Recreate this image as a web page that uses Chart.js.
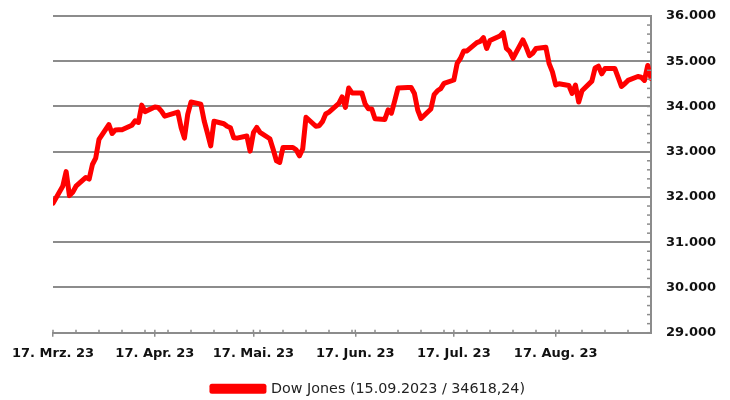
<!DOCTYPE html>
<html>
<head>
<meta charset="utf-8">
<script src="https://cdn.jsdelivr.net/npm/chart.js@4.4.0/dist/chart.umd.min.js"></script>
<style>
    html, body { margin: 0; padding: 0; background: #fff; }
    #wrap { width: 730px; height: 400px; }
</style>
</head>
<body>
<div id="wrap"><canvas id="dowChart"></canvas></div>
<script>
// Handelstage (Schlusskurse Dow Jones, Feiertage mit Vortageskurs)
const tradeDates = [
    '2023-03-17', '2023-03-20', '2023-03-21', '2023-03-22', '2023-03-23', '2023-03-24',
    '2023-03-27', '2023-03-28', '2023-03-29', '2023-03-30', '2023-03-31',
    '2023-04-03', '2023-04-04', '2023-04-05', '2023-04-06', '2023-04-07',
    '2023-04-10', '2023-04-11', '2023-04-12', '2023-04-13', '2023-04-14',
    '2023-04-17', '2023-04-18', '2023-04-19', '2023-04-20', '2023-04-21',
    '2023-04-24', '2023-04-25', '2023-04-26', '2023-04-27', '2023-04-28',
    '2023-05-01', '2023-05-02', '2023-05-03', '2023-05-04', '2023-05-05',
    '2023-05-08', '2023-05-09', '2023-05-10', '2023-05-11', '2023-05-12',
    '2023-05-15', '2023-05-16', '2023-05-17', '2023-05-18', '2023-05-19',
    '2023-05-22', '2023-05-23', '2023-05-24', '2023-05-25', '2023-05-26',
    '2023-05-29', '2023-05-30', '2023-05-31', '2023-06-01', '2023-06-02',
    '2023-06-05', '2023-06-06', '2023-06-07', '2023-06-08', '2023-06-09',
    '2023-06-12', '2023-06-13', '2023-06-14', '2023-06-15', '2023-06-16',
    '2023-06-19', '2023-06-20', '2023-06-21', '2023-06-22', '2023-06-23',
    '2023-06-26', '2023-06-27', '2023-06-28', '2023-06-29', '2023-06-30',
    '2023-07-03', '2023-07-04', '2023-07-05', '2023-07-06', '2023-07-07',
    '2023-07-10', '2023-07-11', '2023-07-12', '2023-07-13', '2023-07-14',
    '2023-07-17', '2023-07-18', '2023-07-19', '2023-07-20', '2023-07-21',
    '2023-07-24', '2023-07-25', '2023-07-26', '2023-07-27', '2023-07-28',
    '2023-07-31', '2023-08-01', '2023-08-02', '2023-08-03', '2023-08-04',
    '2023-08-07', '2023-08-08', '2023-08-09', '2023-08-10', '2023-08-11',
    '2023-08-14', '2023-08-15', '2023-08-16', '2023-08-17', '2023-08-18',
    '2023-08-21', '2023-08-22', '2023-08-23', '2023-08-24', '2023-08-25',
    '2023-08-28', '2023-08-29', '2023-08-30', '2023-08-31', '2023-09-01',
    '2023-09-04', '2023-09-05', '2023-09-06', '2023-09-07', '2023-09-08',
    '2023-09-11', '2023-09-12', '2023-09-13', '2023-09-14', '2023-09-15'
];

const dowValues = [
    31861.98, 32244.58, 32560.60, 32030.11, 32105.25, 32237.53,
    32432.08, 32394.25, 32717.60, 32859.03, 33274.15,
    33601.15, 33402.38, 33482.72, 33485.29, 33485.29,
    33586.52, 33684.79, 33646.50, 34029.69, 33886.47,
    33987.18, 33976.63, 33897.01, 33786.62, 33808.96,
    33875.40, 33530.83, 33301.87, 33826.16, 34098.16,
    34051.70, 33684.53, 33414.24, 33127.74, 33674.38,
    33618.69, 33561.81, 33531.33, 33309.51, 33300.62,
    33348.60, 33012.14, 33420.77, 33535.91, 33426.63,
    33286.58, 33055.51, 32799.92, 32764.65, 33093.34,
    33093.34, 33042.78, 32908.27, 33061.57, 33762.76,
    33562.86, 33573.28, 33665.02, 33833.61, 33876.78,
    34066.33, 34212.12, 33979.33, 34408.06, 34299.12,
    34299.12, 34053.87, 33951.52, 33946.71, 33727.43,
    33714.71, 33926.74, 33852.66, 34122.42, 34407.60,
    34418.47, 34418.47, 34288.64, 33922.26, 33734.88,
    33944.40, 34261.42, 34347.43, 34395.14, 34509.03,
    34585.35, 34951.93, 35061.21, 35225.18, 35227.69,
    35411.24, 35438.07, 35520.12, 35282.72, 35459.29,
    35559.53, 35630.68, 35282.52, 35215.89, 35065.62,
    35473.13, 35314.49, 35123.36, 35176.15, 35281.40,
    35307.63, 34946.39, 34765.74, 34474.83, 34500.66,
    34463.69, 34288.83, 34472.98, 34099.42, 34346.90,
    34559.98, 34852.67, 34890.24, 34721.91, 34837.71,
    34837.71, 34641.97, 34443.19, 34500.73, 34576.59,
    34663.72, 34645.99, 34575.53, 34907.11, 34618.24
];

// Achsenbeschriftungen
const xTickDates = ['2023-03-17', '2023-04-17', '2023-05-17', '2023-06-17', '2023-07-17', '2023-08-17'];
const xTickLabels = ['17. Mrz. 23', '17. Apr. 23', '17. Mai. 23', '17. Jun. 23', '17. Jul. 23', '17. Aug. 23'];
const yTickValues = [29000, 30000, 31000, 32000, 33000, 34000, 35000, 36000];
const yTickLabels = ['29.000', '30.000', '31.000', '32.000', '33.000', '34.000', '35.000', '36.000'];
const legendLabel = 'Dow Jones (15.09.2023 / 34618,24)';

const gridGray = '#8c8c8c';

// Tage seit dem ersten Handelstag
function dayIndex(dateStr) {
    return Math.round((Date.parse(dateStr) - Date.parse(tradeDates[0])) / 86400000);
}

const lastDay = dayIndex(tradeDates[tradeDates.length - 1]);
const majorDays = xTickDates.map(dayIndex);

// Wochenticks + Monatsticks
let xTickDays = [];
for (let d = 0; d <= lastDay; d += 7) xTickDays.push(d);
xTickDays = Array.from(new Set(xTickDays.concat(majorDays))).sort((a, b) => a - b);

// kleine Ticks nach innen zeichnen (x unten, y rechts)
const innerTicksPlugin = {
    id: 'innerTicks',
    afterDraw(chart) {
        const c = chart.ctx;
        const area = chart.chartArea;
        c.save();
        c.strokeStyle = gridGray;
        c.lineWidth = 1.5;
        chart.scales.x.ticks.forEach(t => {
            const px = chart.scales.x.getPixelForValue(t.value);
            c.beginPath();
            c.moveTo(px, area.bottom);
            c.lineTo(px, area.bottom - 3);
            c.stroke();
        });
        chart.scales.y.ticks.forEach(t => {
            const py = chart.scales.y.getPixelForValue(t.value);
            c.beginPath();
            c.moveTo(area.right, py);
            c.lineTo(area.right - 4, py);
            c.stroke();
        });
        c.restore();
    }
};

const ctx = document.getElementById('dowChart').getContext('2d');
new Chart(ctx, {
    type: 'line',
    data: {
        datasets: [{
            label: legendLabel,
            data: tradeDates.map((d, i) => ({ x: dayIndex(d), y: dowValues[i] })),
            borderColor: '#ff0000',
            backgroundColor: '#ff0000',
            borderWidth: 5,
            pointRadius: 0,
            tension: 0,
            borderJoinStyle: 'round',
            borderCapStyle: 'round'
        }]
    },
    options: {
        responsive: true,
        maintainAspectRatio: false,
        animation: false,
        layout: {
            padding: { left: 7, right: 0, top: 16, bottom: -6 }
        },
        scales: {
            x: {
                type: 'linear',
                min: 0,
                max: lastDay,
                afterBuildTicks: function(scale) {
                    scale.ticks = xTickDays.map(v => ({ value: v }));
                },
                afterFit: function(scale) {
                    scale.height = 44;
                    scale.paddingLeft = 53;
                },
                ticks: {
                    autoSkip: false,
                    maxRotation: 0,
                    padding: 9,
                    color: '#111',
                    font: { family: 'DejaVu Sans', size: 13, weight: 'bold' },
                    callback: function(value) {
                        const i = majorDays.indexOf(value);
                        return i >= 0 ? xTickLabels[i] : '';
                    }
                },
                grid: {
                    drawOnChartArea: false,
                    drawTicks: true,
                    tickLength: 4,
                    tickColor: function(c) {
                        return c.tick && majorDays.indexOf(c.tick.value) >= 0 ? gridGray : 'rgba(0,0,0,0)';
                    },
                    lineWidth: 1.5
                },
                border: { display: true, color: gridGray, width: 2 }
            },
            y: {
                position: 'right',
                min: 29000,
                max: 36000,
                afterFit: function(scale) {
                    scale.width = 79;
                    scale.paddingTop = 0;
                },
                ticks: {
                    stepSize: 200,
                    autoSkip: false,
                    padding: 15,
                    color: '#111',
                    font: { family: 'DejaVu Sans', size: 13, weight: 'bold' },
                    callback: function(value) {
                        const i = yTickValues.indexOf(value);
                        return i >= 0 ? yTickLabels[i] : '';
                    }
                },
                grid: {
                    color: function(c) {
                        return c.tick && c.tick.value % 1000 === 0 ? gridGray : 'rgba(0,0,0,0)';
                    },
                    lineWidth: 2,
                    drawTicks: false
                },
                border: { display: true, color: gridGray, width: 2 }
            }
        },
        plugins: {
            legend: {
                position: 'bottom',
                labels: {
                    boxWidth: 52,
                    boxHeight: 5,
                    color: '#222',
                    padding: 5,
                    font: { family: 'DejaVu Sans', size: 14.3 }
                }
            },
            tooltip: { enabled: false }
        }
    },
    plugins: [innerTicksPlugin]
});
</script>
</body>
</html>
